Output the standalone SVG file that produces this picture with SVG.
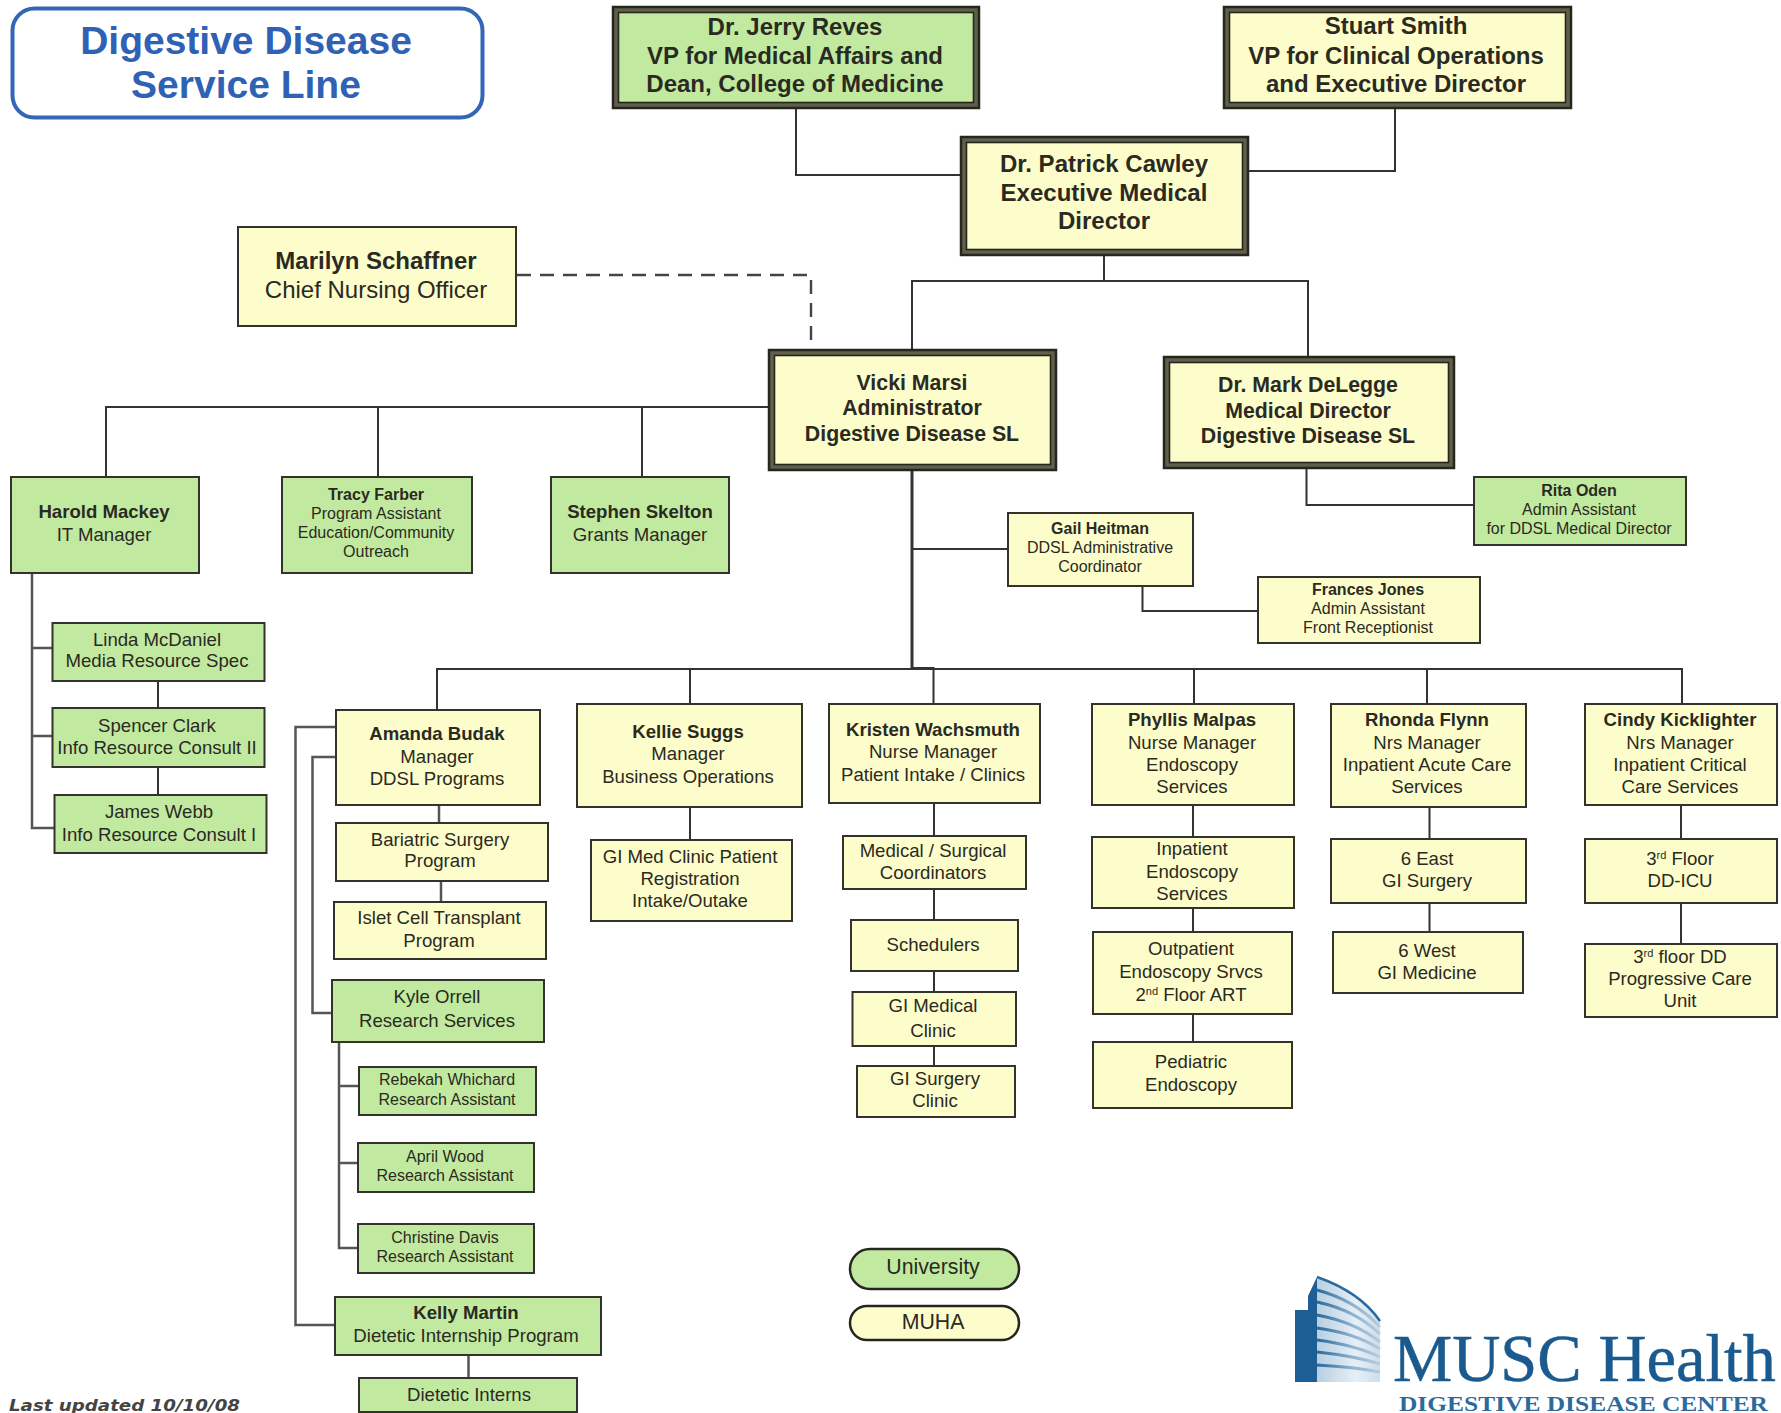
<svg xmlns="http://www.w3.org/2000/svg" width="1781" height="1413" viewBox="0 0 1781 1413">
<style>
text{font-family:"Liberation Sans",Arial,sans-serif;fill:#2a2a22;text-anchor:middle}
.b{font-weight:700}
.s22{font-size:24px}.s24{font-size:24px}.s23{font-size:24px}.s18{font-size:18.600px}.s15{font-size:16px}.s21{font-size:21.300px}
.box{stroke:#33332c;stroke-width:2}
.y{fill:#fdfdcb}.g{fill:#c2e9a0}
.band{fill:#5f5f4a;stroke:#26261f;stroke-width:2.5}
.inner{stroke:#26261f;stroke-width:1.6}
.c{fill:none;stroke:#333;stroke-width:2}
.t{stroke:#555;stroke-width:2.5}
</style>
<defs>
<linearGradient id="bld" gradientUnits="userSpaceOnUse" x1="1318" x2="1381" y1="0" y2="0"><stop offset="0" stop-color="#b9d0e2"/><stop offset=".6" stop-color="#e6eff6"/><stop offset="1" stop-color="#cddcea"/></linearGradient>
<linearGradient id="str" gradientUnits="userSpaceOnUse" x1="1318" x2="1381" y1="0" y2="0"><stop offset="0" stop-color="#2a6a9e"/><stop offset=".55" stop-color="#8fb3cf"/><stop offset="1" stop-color="#b7cde0"/></linearGradient>
</defs>
<rect width="1781" height="1413" fill="#fff"/>
<g id="connectors">
<path class="c" d="M796 109V175H960"/>
<path class="c" d="M1395 108V171H1249"/>
<path class="c" d="M1104 256V281M912 349V281H1308V356"/>
<path class="c" d="M517 275H811V349" stroke-dasharray="14 9" style="stroke:#444;stroke-width:2.4"/>
<path class="c" d="M768 407H106V477M378 407V477M642 407V477"/>
<path class="c" d="M912 471V668" style="stroke-width:3"/>
<path class="c" d="M912 549H1008"/>
<path class="c" d="M1142.500 586V611H1258"/>
<path class="c" d="M1306.500 469V505H1474"/>
<path class="c" d="M437 710V669H1682V704M690 669V704M912 668H933.500V704M1194 669V704M1427 669V704"/>
<path class="c t" d="M32 573V828H54M32 648H52M32 736H52"/>
<path class="c" d="M158 681V708M158 767V795"/>
<path class="c t" d="M336 727H295.500V1325H335"/>
<path class="c t" d="M336 757H312.500V1013H332"/>
<path class="c t" d="M439 805V823M441 881V902"/>
<path class="c t" d="M339 1042V1248H358M339 1086H359M339 1163H358"/>
<path class="c t" d="M468.500 1355V1378"/>
<path class="c" d="M690 807V839M934 803V836M934 889V920M934 971V992M934 1046V1066"/>
<path class="c" d="M1193 805V837M1193 908V932M1193 1014V1042"/>
<path class="c" d="M1429.500 807V839M1429.500 903V932M1681 805V839M1681 903V944"/>
</g>
<g id="title"><rect x="12.500" y="8.500" width="470" height="109" rx="22" fill="#fff" stroke="#3466b8" stroke-width="4"/>
<text x="246" y="54" style="font-size:39px;fill:#2f62b5" class="b">Digestive Disease</text>
<text x="246" y="98" style="font-size:39px;fill:#2f62b5" class="b">Service Line</text></g>
<g id="reves"><rect class="band" x="613" y="7" width="366" height="101"/><rect class="inner g" x="618.500" y="12.500" width="355" height="90"/>
<text class="b s22" x="795" y="35">Dr. Jerry Reves</text><text class="b s22" x="795" y="64">VP for Medical Affairs and</text><text class="b s22" x="795" y="92">Dean, College of Medicine</text></g>
<g id="smith"><rect class="band" x="1224" y="7" width="347" height="101"/><rect class="inner y" x="1229.500" y="12.500" width="336" height="90"/>
<text class="b s22" x="1396" y="34">Stuart Smith</text><text class="b s22" x="1396" y="64">VP for Clinical Operations</text><text class="b s22" x="1396" y="92">and Executive Director</text></g>
<g id="cawley"><rect class="band" x="961" y="137" width="287" height="118"/><rect class="inner y" x="966.500" y="142.500" width="276" height="107"/>
<text class="b s24" x="1104" y="172">Dr. Patrick Cawley</text><text class="b s24" x="1104" y="201">Executive Medical</text><text class="b s24" x="1104" y="229">Director</text></g>
<g id="schaffner"><rect class="box y" x="238" y="227" width="278" height="99"/>
<text class="b s23" x="376" y="269">Marilyn Schaffner</text><text class="s23" x="376" y="298">Chief Nursing Officer</text></g>
<g id="marsi"><rect class="band" x="769" y="350" width="287" height="120"/><rect class="inner y" x="774.500" y="355.500" width="276" height="109"/>
<text class="b s21" x="912" y="390">Vicki Marsi</text><text class="b s21" x="912" y="415">Administrator</text><text class="b s21" x="912" y="441">Digestive Disease SL</text></g>
<g id="delegge"><rect class="band" x="1164" y="357" width="290" height="111"/><rect class="inner y" x="1169.500" y="362.500" width="279" height="100"/>
<text class="b s21" x="1308" y="392">Dr. Mark DeLegge</text><text class="b s21" x="1308" y="418">Medical Director</text><text class="b s21" x="1308" y="443">Digestive Disease SL</text></g>
<g id="mackey"><rect class="box g" x="11" y="477" width="188" height="96"/><text class="b s18" x="104" y="518">Harold Mackey</text><text class="s18" x="104" y="541">IT Manager</text></g>
<g id="farber"><rect class="box g" x="282" y="477" width="190" height="96"/><text class="b s15" x="376" y="500">Tracy Farber</text><text class="s15" x="376" y="519">Program Assistant</text><text class="s15" x="376" y="538">Education/Community</text><text class="s15" x="376" y="557">Outreach</text></g>
<g id="skelton"><rect class="box g" x="551" y="477" width="178" height="96"/><text class="b s18" x="640" y="518">Stephen Skelton</text><text class="s18" x="640" y="541">Grants Manager</text></g>
<g id="oden"><rect class="box g" x="1474" y="477" width="212" height="68"/><text class="b s15" x="1579" y="496">Rita Oden</text><text class="s15" x="1579" y="515">Admin Assistant</text><text class="s15" x="1579" y="534">for DDSL Medical Director</text></g>
<g id="heitman"><rect class="box y" x="1008" y="513" width="185" height="73"/><text class="b s15" x="1100" y="534">Gail Heitman</text><text class="s15" x="1100" y="553">DDSL Administrative</text><text class="s15" x="1100" y="572">Coordinator</text></g>
<g id="jones"><rect class="box y" x="1258" y="577" width="222" height="66"/><text class="b s15" x="1368" y="595">Frances Jones</text><text class="s15" x="1368" y="614">Admin Assistant</text><text class="s15" x="1368" y="633">Front Receptionist</text></g>
<g id="mcdaniel"><rect class="box g" x="52.500" y="623" width="212" height="58"/><text class="s18" x="157" y="646">Linda McDaniel</text><text class="s18" x="157" y="667">Media Resource Spec</text></g>
<g id="clark"><rect class="box g" x="52.500" y="708" width="212" height="59"/><text class="s18" x="157" y="732">Spencer Clark</text><text class="s18" x="157" y="754">Info Resource Consult II</text></g>
<g id="webb"><rect class="box g" x="54.500" y="795" width="212" height="58"/><text class="s18" x="159" y="818">James Webb</text><text class="s18" x="159" y="841">Info Resource Consult I</text></g>
<g id="budak"><rect class="box y" x="336" y="710" width="204" height="95"/><text class="b s18" x="437" y="740">Amanda Budak</text><text class="s18" x="437" y="763">Manager</text><text class="s18" x="437" y="785">DDSL Programs</text></g>
<g id="bariatric"><rect class="box y" x="336" y="823" width="212" height="58"/><text class="s18" x="440" y="846">Bariatric Surgery</text><text class="s18" x="440" y="867">Program</text></g>
<g id="islet"><rect class="box y" x="334" y="902" width="212" height="57"/><text class="s18" x="439" y="924">Islet Cell Transplant</text><text class="s18" x="439" y="947">Program</text></g>
<g id="orrell"><rect class="box g" x="332" y="980" width="212" height="62"/><text class="s18" x="437" y="1003">Kyle Orrell</text><text class="s18" x="437" y="1027">Research Services</text></g>
<g id="whichard"><rect class="box g" x="359" y="1067" width="177" height="48"/><text class="s15" x="447" y="1085">Rebekah Whichard</text><text class="s15" x="447" y="1105">Research Assistant</text></g>
<g id="wood"><rect class="box g" x="358" y="1143" width="176" height="49"/><text class="s15" x="445" y="1162">April Wood</text><text class="s15" x="445" y="1181">Research Assistant</text></g>
<g id="davis"><rect class="box g" x="358" y="1224" width="176" height="49"/><text class="s15" x="445" y="1243">Christine Davis</text><text class="s15" x="445" y="1262">Research Assistant</text></g>
<g id="martin"><rect class="box g" x="335" y="1297" width="266" height="58"/><text class="b s18" x="466" y="1319">Kelly Martin</text><text class="s18" x="466" y="1342">Dietetic Internship Program</text></g>
<g id="interns"><rect class="box g" x="359" y="1378" width="218" height="34"/><text class="s18" x="469" y="1401">Dietetic Interns</text></g>
<g id="suggs"><rect class="box y" x="577" y="704" width="225" height="103"/><text class="b s18" x="688" y="738">Kellie Suggs</text><text class="s18" x="688" y="760">Manager</text><text class="s18" x="688" y="783">Business Operations</text></g>
<g id="registration"><rect class="box y" x="591" y="840" width="201" height="81"/><text class="s18" x="690" y="863">GI Med Clinic Patient</text><text class="s18" x="690" y="885">Registration</text><text class="s18" x="690" y="907">Intake/Outake</text></g>
<g id="wachsmuth"><rect class="box y" x="829" y="704" width="211" height="99"/><text class="b s18" x="933" y="736">Kristen Wachsmuth</text><text class="s18" x="933" y="758">Nurse Manager</text><text class="s18" x="933" y="781">Patient Intake / Clinics</text></g>
<g id="coordinators"><rect class="box y" x="843" y="836" width="183" height="53"/><text class="s18" x="933" y="857">Medical / Surgical</text><text class="s18" x="933" y="879">Coordinators</text></g>
<g id="schedulers"><rect class="box y" x="851" y="920" width="167" height="51"/><text class="s18" x="933" y="951">Schedulers</text></g>
<g id="gimedical"><rect class="box y" x="852.500" y="992" width="163.500" height="54"/><text class="s18" x="933" y="1012">GI Medical</text><text class="s18" x="933" y="1037">Clinic</text></g>
<g id="gisurgery"><rect class="box y" x="857" y="1066" width="158" height="51"/><text class="s18" x="935" y="1085">GI Surgery</text><text class="s18" x="935" y="1107">Clinic</text></g>
<g id="malpas"><rect class="box y" x="1092" y="704" width="202" height="101"/><text class="b s18" x="1192" y="726">Phyllis Malpas</text><text class="s18" x="1192" y="749">Nurse Manager</text><text class="s18" x="1192" y="771">Endoscopy</text><text class="s18" x="1192" y="793">Services</text></g>
<g id="inpatient"><rect class="box y" x="1092" y="837" width="202" height="71"/><text class="s18" x="1192" y="855">Inpatient</text><text class="s18" x="1192" y="878">Endoscopy</text><text class="s18" x="1192" y="900">Services</text></g>
<g id="outpatient"><rect class="box y" x="1093" y="932" width="199" height="82"/><text class="s18" x="1191" y="955">Outpatient</text><text class="s18" x="1191" y="978">Endoscopy Srvcs</text><text class="s18" x="1191" y="1001">2<tspan font-size="11" dy="-6">nd</tspan><tspan dy="6"> Floor ART</tspan></text></g>
<g id="pediatric"><rect class="box y" x="1093" y="1042" width="199" height="66"/><text class="s18" x="1191" y="1068">Pediatric</text><text class="s18" x="1191" y="1091">Endoscopy</text></g>
<g id="flynn"><rect class="box y" x="1331" y="704" width="195" height="103"/><text class="b s18" x="1427" y="726">Rhonda Flynn</text><text class="s18" x="1427" y="749">Nrs Manager</text><text class="s18" x="1427" y="771">Inpatient Acute Care</text><text class="s18" x="1427" y="793">Services</text></g>
<g id="east"><rect class="box y" x="1331" y="839" width="195" height="64"/><text class="s18" x="1427" y="865">6 East</text><text class="s18" x="1427" y="887">GI Surgery</text></g>
<g id="west"><rect class="box y" x="1333" y="932" width="190" height="61"/><text class="s18" x="1427" y="957">6 West</text><text class="s18" x="1427" y="979">GI Medicine</text></g>
<g id="kicklighter"><rect class="box y" x="1585" y="704" width="192" height="101"/><text class="b s18" x="1680" y="726">Cindy Kicklighter</text><text class="s18" x="1680" y="749">Nrs Manager</text><text class="s18" x="1680" y="771">Inpatient Critical</text><text class="s18" x="1680" y="793">Care Services</text></g>
<g id="ddicu"><rect class="box y" x="1585" y="839" width="192" height="64"/><text class="s18" x="1680" y="865">3<tspan font-size="11" dy="-6">rd</tspan><tspan dy="6"> Floor</tspan></text><text class="s18" x="1680" y="887">DD-ICU</text></g>
<g id="progressive"><rect class="box y" x="1585" y="944" width="192" height="73"/><text class="s18" x="1680" y="963">3<tspan font-size="11" dy="-6">rd</tspan><tspan dy="6"> floor DD</tspan></text><text class="s18" x="1680" y="985">Progressive Care</text><text class="s18" x="1680" y="1007">Unit</text></g>
<g id="legend-university"><rect class="g" x="850" y="1249" width="169" height="40" rx="20" stroke="#26261f" stroke-width="2.5"/><text class="s21" x="933" y="1274">University</text></g>
<g id="legend-muha"><rect class="y" x="850" y="1306" width="169" height="34" rx="17" stroke="#26261f" stroke-width="2.5"/><text class="s21" x="933" y="1329">MUHA</text></g>
<text id="updated" x="9" y="1411" textLength="231" lengthAdjust="spacingAndGlyphs" style="font-family:'DejaVu Sans',sans-serif;font-size:15px;font-weight:700;font-style:italic;text-anchor:start;fill:#444">Last updated 10/10/08</text>
<g id="logo">
<path d="M1295 1382V1310H1308V1296L1317 1277V1382Z" fill="#1d5f94"/>
<path d="M1317 1277Q1360 1292 1380 1321V1382H1317Z" fill="url(#bld)"/>
<path d="M1317 1277Q1360 1292 1380 1321" fill="none" stroke="#2a6a9e" stroke-width="2.500"/>
<g stroke="url(#str)" stroke-width="3" fill="none"><path d="M1317 1290Q1355 1300 1380 1327"/><path d="M1317 1302Q1355 1310 1380 1334"/><path d="M1317 1315Q1355 1322 1380 1342"/><path d="M1317 1328Q1355 1333 1380 1349"/><path d="M1317 1340Q1355 1345 1380 1357"/><path d="M1317 1352Q1355 1356 1380 1364"/><path d="M1317 1365Q1355 1367 1380 1372"/></g>
<text x="1393" y="1381" style="font-family:'Liberation Serif',serif;font-size:66.600px;text-anchor:start;fill:#1a5a8e;stroke:#1a5a8e;stroke-width:.5">MUSC Health</text>
<text x="1399" y="1411" textLength="369" lengthAdjust="spacingAndGlyphs" style="font-family:'Liberation Serif',serif;font-size:21px;font-weight:700;text-anchor:start;fill:#2c6a9c">DIGESTIVE DISEASE CENTER</text>
</g>
</svg>
